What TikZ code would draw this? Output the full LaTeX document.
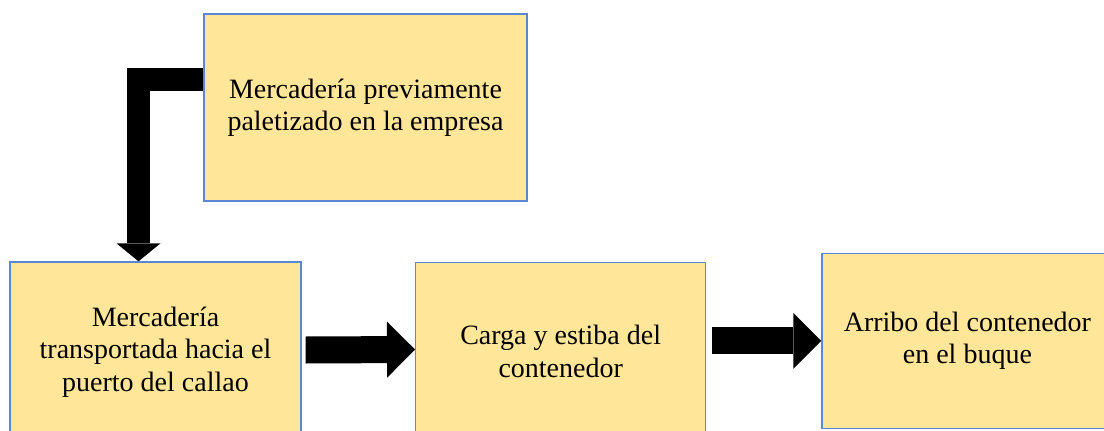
\documentclass[tikz,border=0pt]{standalone}
\usepackage{fontspec}
\setmainfont{Liberation Serif}
\usetikzlibrary{arrows.meta,calc,backgrounds}
\definecolor{boxfill}{HTML}{FFE699}
\definecolor{boxline}{HTML}{5B86D3}
\begin{document}
\begin{tikzpicture}[x=1pt,y=-1pt,
  stepbox/.style={draw=boxline, line width=1.3pt, fill=boxfill, align=center,
    inner sep=0pt, text=black, font=\fontsize{28}{32.5}\selectfont},
  blockarrow/.style={draw=black, line width=27pt, line join=miter,
    -{Triangle[width=56pt,length=28pt,line width=0pt]}},
  elbowarrow/.style={draw=black, line width=23pt, line join=miter,
    -{Triangle[width=44pt,length=18pt,line width=0pt]}}]
\useasboundingbox (0,0) rectangle (1104,431);
\clip (0,0) rectangle (1104,431);
\node[stepbox, minimum width=323pt, minimum height=187pt] (top) at (365.5,107.5)
  {Mercadería previamente\\paletizado en la empresa};
\node[stepbox, minimum width=291pt, minimum height=180pt] (left) at (155.5,352)
  {Mercadería\\transportada hacia el\\puerto del callao};
\node[stepbox, minimum width=290pt, minimum height=178pt] (mid) at (560.7,351.5)
  {Carga y estiba del\\contenedor};
\node[stepbox, minimum width=291pt, minimum height=175pt] (right) at (967.4,340.8)
  {Arribo del contenedor\\en el buque};
\coordinate (bend) at (138.5,79);
\begin{pgfonlayer}{background}
\draw[elbowarrow] (top.west |- bend) -- (bend) -- (bend |- left.north);
\draw[blockarrow] ($(left.east)+(4,-2)$) -- ($(mid.west)+(0,-2)$);
\draw[blockarrow] ($(mid.east |- right.west)+(6,0)$) -- (right.west);
\end{pgfonlayer}
\end{tikzpicture}
\end{document}
